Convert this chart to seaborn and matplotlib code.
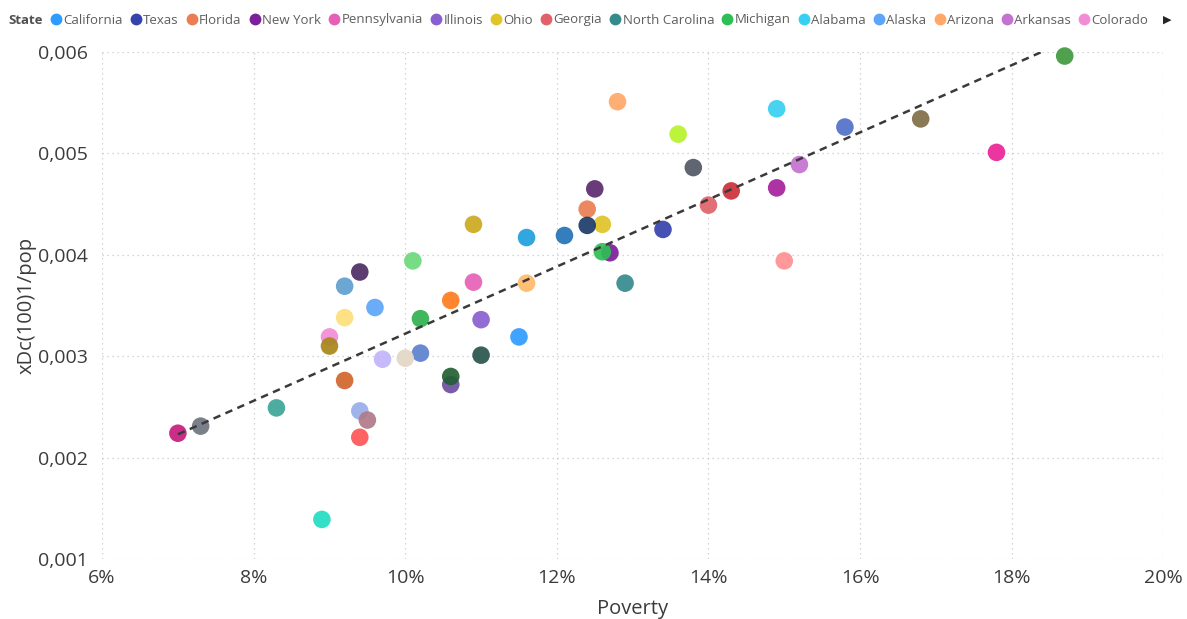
import numpy as np
import pandas as pd
import seaborn as sns
import matplotlib.pyplot as plt
from matplotlib.lines import Line2D
from matplotlib.ticker import FuncFormatter, MultipleLocator

# data (poverty in %, xDc(100)1/pop)
states = ["California", "Texas", "Florida", "New York", "Pennsylvania", "Illinois", "Ohio",
          "Georgia", "North Carolina", "Michigan", "Alabama", "Alaska", "Arizona", "Arkansas",
          "Colorado", "Connecticut", "Delaware", "District of Columbia", "Hawaii", "Idaho",
          "Indiana", "Iowa", "Kansas", "Kentucky", "Louisiana", "Maine", "Maryland",
          "Massachusetts", "Minnesota", "Mississippi", "Missouri", "Montana", "Nebraska",
          "Nevada", "New Hampshire", "New Jersey", "New Mexico", "North Dakota", "Oklahoma",
          "Oregon", "Rhode Island", "South Carolina", "South Dakota", "Tennessee", "Utah",
          "Vermont", "Virginia", "Washington", "West Virginia", "Wisconsin", "Wyoming"]
poverty = [11.5, 13.4, 12.4, 12.7, 10.9, 11.0, 12.6,
           14.0, 12.9, 12.6, 14.9, 9.6, 12.8, 15.2,
           9.0, 9.7, 10.9, 15.0, 8.9, 10.1,
           11.6, 10.2, 10.6, 14.9, 17.8, 10.6, 9.0,
           9.4, 8.3, 18.7, 12.1, 12.4, 9.2,
           12.5, 7.0, 9.4, 16.8, 10.0, 13.8,
           11.6, 11.0, 14.3, 13.6, 10.2, 7.3,
           9.2, 9.2, 9.4, 15.8, 10.6, 9.5]
xdc = [0.00319, 0.00425, 0.00445, 0.00402, 0.00373, 0.00336, 0.00430,
       0.00449, 0.00372, 0.00403, 0.00544, 0.00348, 0.00551, 0.00489,
       0.00319, 0.00297, 0.00430, 0.00394, 0.00139, 0.00394,
       0.00417, 0.00303, 0.00355, 0.00466, 0.00501, 0.00272, 0.00310,
       0.00220, 0.00249, 0.00596, 0.00419, 0.00429, 0.00276,
       0.00465, 0.00224, 0.00383, 0.00534, 0.00298, 0.00486,
       0.00372, 0.00301, 0.00463, 0.00519, 0.00337, 0.00231,
       0.00369, 0.00338, 0.00246, 0.00526, 0.00280, 0.00237]
colors = ["#2E9BFF", "#3543AE", "#EA7E52", "#7B1F9A", "#E561B8", "#8A60D0", "#E0C428",
          "#E0626A", "#358A8E", "#2DBF55", "#38D0F2", "#5DA5F8", "#FFA867", "#C472D0",
          "#F28CD6", "#C1B4FA", "#CCA91E", "#FF9090", "#22DDC4", "#6BD97A",
          "#209FDC", "#5A80D0", "#FF7B1F", "#A6209B", "#EC2497", "#6F4FA0", "#A8861B",
          "#FF5555", "#3BA597", "#41993F", "#2273B9", "#1D3A68", "#D2652C",
          "#5C2A6E", "#C71C7F", "#4E2C63", "#7F6E45", "#E3D6C6", "#515966",
          "#FFBA6B", "#29554D", "#CC3039", "#B5F22C", "#2FB04F", "#6E7580",
          "#5F9FCF", "#FEDF7A", "#98AEEA", "#5070C8", "#226034", "#B07A8A"]

df = pd.DataFrame({"State": states, "Poverty": poverty, "xDc": xdc})
palette = dict(zip(states, colors))

sns.set_theme(style="white")
plt.rcParams["font.family"] = ["Open Sans", "DejaVu Sans"]
text_col = "#605E5C"
axis_col = "#3b3b3b"

fig, ax = plt.subplots(figsize=(11.87, 6.19), dpi=100)
fig.subplots_adjust(left=0.086, right=0.980, top=0.916, bottom=0.097)

sns.scatterplot(data=df, x="Poverty", y="xDc", hue="State", palette=palette, s=160,
                linewidth=0, alpha=0.92, legend=False, ax=ax, clip_on=False, zorder=3)
sns.regplot(data=df, x="Poverty", y="xDc", scatter=False, ci=None, truncate=True, ax=ax,
            line_kws=dict(color="#3a3a3a", lw=1.8, ls=(0, (3, 2.2)), zorder=4))

ax.set_xlim(6, 20)
ax.set_ylim(0.001, 0.006)
ax.xaxis.set_major_locator(MultipleLocator(2))
ax.yaxis.set_major_locator(MultipleLocator(0.001))
ax.xaxis.set_major_formatter(FuncFormatter(lambda v, p: f"{v:.0f}%"))
ax.yaxis.set_major_formatter(FuncFormatter(lambda v, p: f"{v:.3f}".replace(".", ",")))
ax.grid(True, ls=(0, (1, 3)), color="#c8c8c8", lw=0.9)
for s in ax.spines.values():
    s.set_visible(False)
ax.tick_params(axis="both", labelsize=14, colors=axis_col, length=0)
ax.tick_params(axis="x", pad=7)
ax.tick_params(axis="y", pad=10)
ax.set_xlabel("Poverty", fontsize=14.5, color=axis_col, labelpad=9)
ax.set_ylabel("xDc(100)1/pop", fontsize=14.5, color=axis_col, labelpad=1)

# legend row across the top (only the first entries fit, as in the original)
shown = states[:15]
handles = [Line2D([], [], marker="o", ls="", markersize=8.5, markeredgewidth=0,
                  color=palette[s]) for s in shown]
fig.text(8 / 1187, 1 - 20 / 619, "State", fontsize=9.5, weight="bold", color="#505050", va="center")
leg = fig.legend(handles, shown, loc="center left", bbox_to_anchor=(50 / 1187, 1 - 20 / 619),
                 ncol=15, frameon=False, handletextpad=0.1, columnspacing=0.55,
                 handlelength=0.9, fontsize=9.5, borderaxespad=0, borderpad=0)
for t in leg.get_texts():
    t.set_color(text_col)
fig.text(1163 / 1187, 1 - 20 / 619, "▶", fontsize=8, color="#252423", va="center",
         family=["DejaVu Sans"])

fig.savefig("out.png", dpi=100)
